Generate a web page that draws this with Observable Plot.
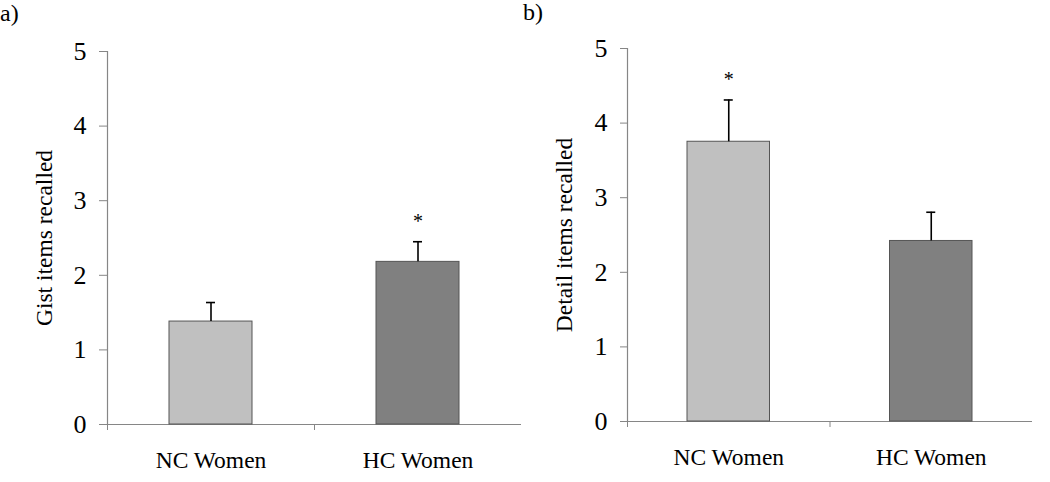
<!DOCTYPE html>
<html>
<head>
<meta charset="utf-8">
<script src="https://cdn.jsdelivr.net/npm/d3@7"></script>
<script src="https://cdn.jsdelivr.net/npm/@observablehq/plot@0.6"></script>
<style>
  html, body { margin: 0; padding: 0; background: #fff; }
  #wrap { position: relative; width: 1050px; height: 482px; font-family: "Liberation Serif", "Times New Roman", serif; }
  .panel { position: absolute; top: 0; z-index: 1; }
  .tag { position: absolute; font-size: 24px; line-height: 24px; color: #000; z-index: 2; }
</style>
</head>
<body>
<div id="wrap">
  <div id="pa" class="panel" style="left:0px;"></div>
  <div id="pb" class="panel" style="left:525px;"></div>
  <div class="tag" style="left:0px; top:1px;">a)</div>
  <div class="tag" style="left:523px; top:0px;">b)</div>
</div>
<script>
// ---- data ----
const categories = ["NC Women", "HC Women"];
const gistMean = [1.38, 2.18];
const gistErr = [0.255, 0.27];
const gistSig = [false, true];
const detailMean = [3.75, 2.42];
const detailErr = [0.56, 0.385];
const detailSig = [true, false];
const yTicks = [0, 1, 2, 3, 4, 5];
const barFills = ["#c0c0c0", "#808080"];

const FONT = '"Liberation Serif", "Times New Roman", serif';

function panel({means, errs, sigs, label, mLeft, mRight, mTop, mBottom, inset, yTickSize}) {
  const rows = categories.map((c, i) => ({
    i, cat: c, mean: means[i], top: means[i] + errs[i], sig: sigs[i], fill: barFills[i]
  }));
  return Plot.plot({
    width: 525,
    height: 482,
    marginLeft: mLeft,
    marginRight: mRight,
    marginTop: mTop,
    marginBottom: mBottom,
    style: {fontFamily: FONT, background: "transparent", color: "#000", overflow: "visible"},
    x: {type: "linear", domain: [0, categories.length]},
    y: {domain: [0, 5]},
    marks: [
      // axis lines
      Plot.ruleX([0], {y1: 0, y2: 5, stroke: "#868686", strokeWidth: 1.2}),
      Plot.ruleY([0], {x1: 0, x2: categories.length, stroke: "#868686", strokeWidth: 1.2}),
      // y axis ticks and labels
      Plot.axisY({ticks: yTicks, tickSize: yTickSize, tickPadding: 13, stroke: "#868686", fill: "#000",
                  fontSize: 26, label: null, tickFormat: d => String(d)}),
      // x boundary ticks
      Plot.axisX({ticks: d3.range(categories.length), tickSize: 6, stroke: "#868686", tickFormat: () => "", label: null}),
      // x category labels
      Plot.axisX({ticks: categories.map((c, i) => i + 0.5), tickSize: 0, tickPadding: 27, fill: "#000",
                  fontSize: 23.5, label: null, tickFormat: d => categories[Math.floor(d)]}),
      // bars
      Plot.rectY(rows, {x1: "i", x2: d => d.i + 1, y1: 0, y2: "mean", fill: "fill",
                        stroke: "#555", strokeWidth: 1, insetLeft: inset, insetRight: inset}),
      // error bars
      Plot.ruleX(rows, {x: d => d.i + 0.5, y1: "mean", y2: "top", stroke: "#000", strokeWidth: 1.6}),
      Plot.ruleY(rows, {y: "top", x1: d => d.i + 0.5, x2: d => d.i + 0.5, insetLeft: -4.5, insetRight: -4.5,
                        stroke: "#000", strokeWidth: 1.6}),
      // significance asterisks
      Plot.text(rows.filter(d => d.sig), {x: d => d.i + 0.5, y: "top", text: () => "*", dy: -14,
                        lineAnchor: "bottom", fontSize: 20, fill: "#000"}),
      // y axis title
      Plot.text([label], {frameAnchor: "left", rotate: -90, dx: -56, textAnchor: "middle",
                          lineAnchor: "bottom", fontSize: 23.5, fill: "#000"})
    ]
  });
}

document.getElementById("pa").append(panel({
  means: gistMean, errs: gistErr, sigs: gistSig, label: "Gist items recalled",
  mLeft: 107, mRight: 4, mTop: 51, mBottom: 58, inset: 62, yTickSize: 8
}));
document.getElementById("pb").append(panel({
  means: detailMean, errs: detailErr, sigs: detailSig, label: "Detail items recalled",
  mLeft: 102, mRight: 18, mTop: 48, mBottom: 61, inset: 60, yTickSize: 7
}));
</script>
</body>
</html>
